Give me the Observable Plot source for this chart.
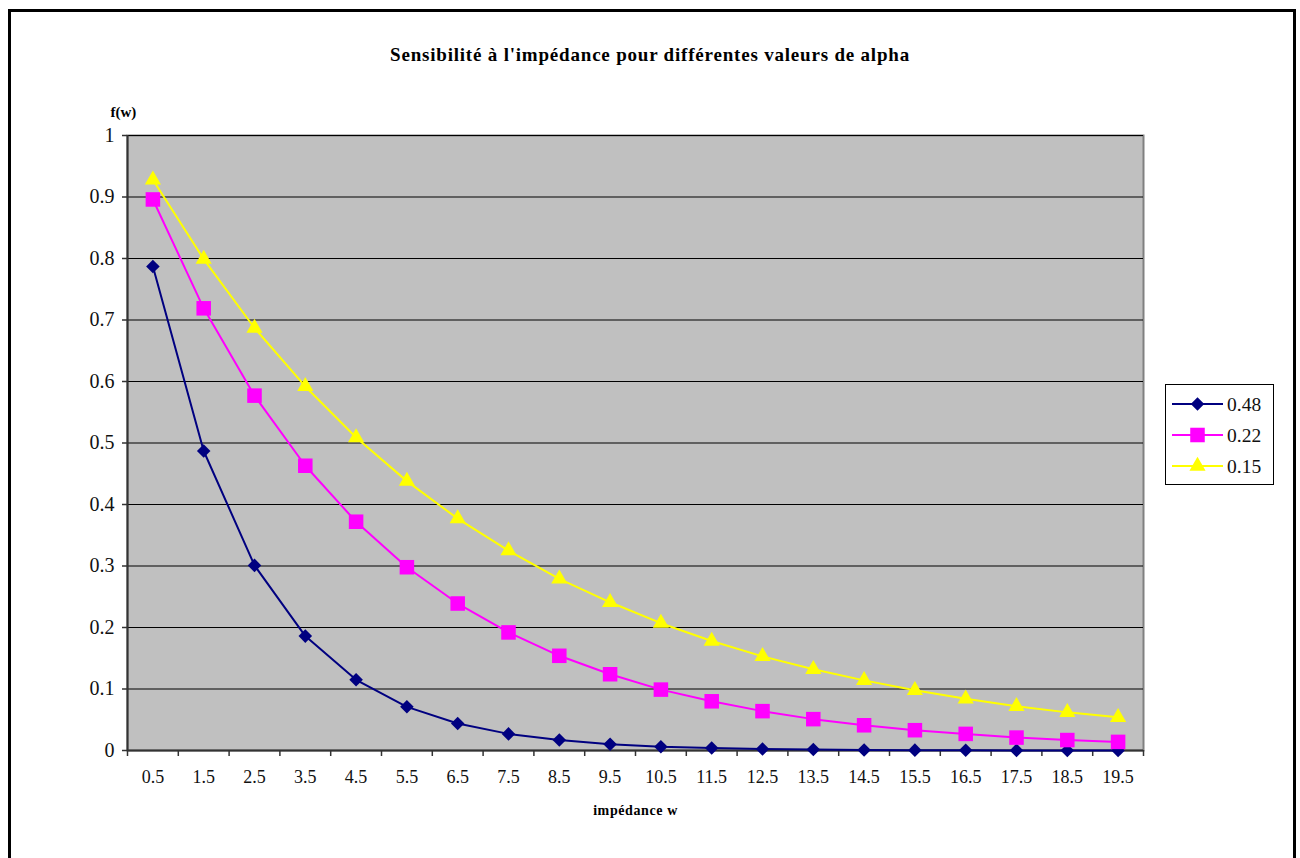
<!DOCTYPE html>
<html>
<head>
<meta charset="utf-8">
<script src="https://cdn.jsdelivr.net/npm/d3@7"></script>
<script src="https://cdn.jsdelivr.net/npm/@observablehq/plot@0.6"></script>
<style>
  html, body { margin: 0; padding: 0; background: #fff; }
  body { width: 1300px; height: 858px; position: relative; overflow: hidden; font-family: "Liberation Serif", "Times New Roman", "DejaVu Serif", serif; }
  #border { position: absolute; left: 8px; top: 9px; width: 1282px; height: 900px; border: 3px solid #000; box-sizing: content-box; }
  #title { position: absolute; left: 0; top: 44px; width: 1300px; text-align: center; font-weight: bold; font-size: 19px; letter-spacing: 0.8px; line-height: 22px; color: #000; font-family: "Liberation Serif", "Times New Roman", "DejaVu Serif", serif; }
  #chart { position: absolute; left: 0; top: 0; }
  #legend { position: absolute; left: 1164px; top: 383px; }
  svg text { font-family: "Liberation Serif", "Times New Roman", "DejaVu Serif", serif; }
</style>
</head>
<body>
<div id="border"></div>
<div id="chart"></div>
<div id="title">Sensibilité à l'impédance pour différentes valeurs de alpha</div>
<div id="legend"></div>
<script>
// ---- Data ----
const wValues = [0.5, 1.5, 2.5, 3.5, 4.5, 5.5, 6.5, 7.5, 8.5, 9.5, 10.5, 11.5, 12.5, 13.5, 14.5, 15.5, 16.5, 17.5, 18.5, 19.5];
const seriesNames = ["0.48", "0.22", "0.15"];
const series048 = [0.787, 0.487, 0.301, 0.186, 0.115, 0.071, 0.044, 0.027, 0.017, 0.010, 0.006, 0.004, 0.0025, 0.0015, 0.0009, 0.0006, 0.0004, 0.0002, 0.0001, 0.0001];
const series022 = [0.896, 0.719, 0.577, 0.463, 0.372, 0.298, 0.239, 0.192, 0.154, 0.124, 0.099, 0.080, 0.064, 0.051, 0.041, 0.033, 0.027, 0.021, 0.017, 0.014];
const series015 = [0.928, 0.799, 0.687, 0.592, 0.509, 0.438, 0.377, 0.325, 0.279, 0.241, 0.207, 0.178, 0.153, 0.132, 0.114, 0.098, 0.084, 0.072, 0.062, 0.054];
const yTicks = [0, 0.1, 0.2, 0.3, 0.4, 0.5, 0.6, 0.7, 0.8, 0.9, 1];
const xBoundaries = [0, 1, 2, 3, 4, 5, 6, 7, 8, 9, 10, 11, 12, 13, 14, 15, 16, 17, 18, 19, 20];
const colors = ["#000080", "#FF00FF", "#FFFF00"];
const symbols = ["diamond2", "square", "triangle"];
const radii = [6.1, 8.2, 6.0];

const allSeries = [series048, series022, series015];
const tables = allSeries.map((vals, i) => wValues.map((w, j) => ({w, v: vals[j], s: seriesNames[i]})));

const serif = "'Liberation Serif', 'Times New Roman', 'DejaVu Serif', serif";

const seriesMarks = tables.flatMap((t, i) => [
  Plot.line(t, {x: "w", y: "v", stroke: colors[i], strokeWidth: 2}),
  Plot.dot(t, {x: "w", y: "v", symbol: () => symbols[i], fill: colors[i], stroke: "none", r: radii[i]})
]);

const chart = Plot.plot({
  width: 1300,
  height: 858,
  marginLeft: 127,
  marginTop: 135,
  marginRight: 157,
  marginBottom: 108,
  style: {fontFamily: serif, background: "transparent", color: "#111"},
  x: {domain: [0, 20]},
  y: {domain: [0, 1]},
  symbol: {type: "identity"},
  marks: [
    Plot.frame({fill: "#c0c0c0", stroke: "#808080", strokeWidth: 2}),
    Plot.gridY(yTicks, {stroke: "#000", strokeOpacity: 1, strokeWidth: 1}),
    Plot.ruleX([0], {stroke: "#333", strokeWidth: 2}),
    Plot.ruleY([0], {stroke: "#333", strokeWidth: 2}),
    Plot.axisY(yTicks, {anchor: "left", tickSize: 5, tickPadding: 8, fontSize: 20, label: null, stroke: "#333", strokeWidth: 1.5, tickFormat: d => String(d)}),
    Plot.axisX(xBoundaries, {anchor: "bottom", tickSize: 6, tickFormat: () => "", label: null, stroke: "#333", strokeWidth: 1.5}),
    Plot.axisX(wValues, {anchor: "bottom", tickSize: 0, tickPadding: 20, fontSize: 18, label: null, tickFormat: d => String(d)}),
    ...seriesMarks,
    Plot.text(["f(w)"], {frameAnchor: "top-left", text: d => d, dx: -17, dy: -29, fontSize: 15, fontWeight: "bold", fill: "#000"}),
    Plot.text(["impédance w"], {frameAnchor: "bottom", text: d => d, dx: 0, dy: 64, fontSize: 14, fontWeight: "bold", fill: "#000"})
  ]
});
document.getElementById("chart").appendChild(chart);
chart.querySelectorAll("text").forEach(t => { if (t.textContent === "impédance w") t.setAttribute("letter-spacing", "0.6"); });

// ---- Legend ----
const lg = d3.select("#legend").append("svg").attr("width", 112).attr("height", 104);
lg.append("rect").attr("x", 1.5).attr("y", 1.5).attr("width", 108).attr("height", 100)
  .attr("fill", "#fff").attr("stroke", "#000").attr("stroke-width", 1);
const symTypes = [d3.symbolDiamond2, d3.symbolSquare, d3.symbolTriangle];
seriesNames.forEach((name, i) => {
  const cy = 21 + i * 31;
  lg.append("line").attr("x1", 8).attr("x2", 59).attr("y1", cy).attr("y2", cy)
    .attr("stroke", colors[i]).attr("stroke-width", 2);
  lg.append("path").attr("transform", `translate(33.5,${cy})`)
    .attr("d", d3.symbol(symTypes[i], Math.PI * radii[i] * radii[i])())
    .attr("fill", colors[i]);
  lg.append("text").attr("x", 63).attr("y", cy).attr("dy", "0.35em")
    .attr("font-size", 19.5).attr("fill", "#111").text(name);
});
</script>
</body>
</html>
